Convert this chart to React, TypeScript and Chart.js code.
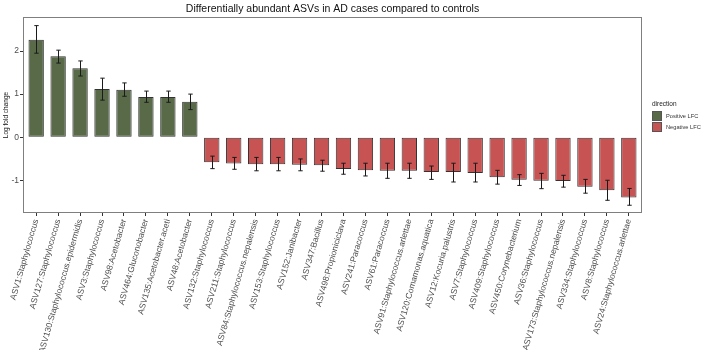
import { useEffect, useRef } from "react";
import { Chart, registerables } from "chart.js";

Chart.register(...registerables);

// ASVs ordered by log fold change (AD cases vs controls)
const asvLabels = [
  "ASV1:Staphylococcus",
  "ASV127:Staphylococcus",
  "ASV130:Staphylococcus.epidermidis",
  "ASV3:Staphylococcus",
  "ASV98:Acetobacter",
  "ASV464:Gluconobacter",
  "ASV135:Acetobacter.aceti",
  "ASV48:Acetobacter",
  "ASV132:Staphylococcus",
  "ASV211:Staphylococcus",
  "ASV84:Staphylococcus.nepalensis",
  "ASV153:Staphylococcus",
  "ASV152:Janibacter",
  "ASV347:Bacillus",
  "ASV498:Propioniciclava",
  "ASV241:Paracoccus",
  "ASV61:Paracoccus",
  "ASV91:Staphylococcus.arlettae",
  "ASV120:Comamonas.aquatica",
  "ASV12:Kocuria.palustris",
  "ASV7:Staphylococcus",
  "ASV409:Staphylococcus",
  "ASV450:Corynebacterium",
  "ASV36:Staphylococcus",
  "ASV173:Staphylococcus.nepalensis",
  "ASV334:Staphylococcus",
  "ASV8:Staphylococcus",
  "ASV24:Staphylococcus.arlettae",
];

const logFoldChange = [
  2.26, 1.88, 1.6, 1.12, 1.1, 0.93, 0.93, 0.82,
  -0.58, -0.61, -0.63, -0.63, -0.64, -0.65, -0.74, -0.77, -0.78, -0.78,
  -0.81, -0.81, -0.83, -0.93, -0.99, -1.01, -1.02, -1.15, -1.23, -1.4,
];

const lfcLower = [
  1.95, 1.72, 1.42, 0.86, 0.95, 0.81, 0.81, 0.64,
  -0.73, -0.745, -0.78, -0.78, -0.78, -0.79, -0.86, -0.9, -0.955, -0.955,
  -0.98, -1.04, -1.04, -1.09, -1.12, -1.195, -1.16, -1.3, -1.465, -1.58,
];

const lfcUpper = [
  2.59, 2.02, 1.77, 1.37, 1.26, 1.07, 1.07, 1.0,
  -0.44, -0.47, -0.47, -0.47, -0.505, -0.535, -0.605, -0.605, -0.605, -0.605,
  -0.67, -0.605, -0.605, -0.77, -0.87, -0.84, -0.885, -0.98, -1.0, -1.19,
];

const yTickValues = [-1, 0, 1, 2];
const directionLabels = ["Positive LFC", "Negative LFC"];

const POSITIVE = "#586a48";
const NEGATIVE = "#c75352";
const FONT = "'Liberation Sans', Arial, sans-serif";

export default function App() {
  const canvasRef = useRef<HTMLCanvasElement>(null);

  useEffect(() => {
    document.body.style.margin = "0";
    const canvas = canvasRef.current;
    if (!canvas) return;

    const positions = asvLabels.map((_, i) => i);
    const colors = logFoldChange.map((v) => (v >= 0 ? POSITIVE : NEGATIVE));

    const decorations = {
      id: "decorations",
      afterDatasetsDraw(chart: any) {
        const ctx = chart.ctx;
        const xs = chart.scales.x;
        const ys = chart.scales.y;
        const cap = (xs.getPixelForValue(1) - xs.getPixelForValue(0)) * 0.1;
        ctx.save();
        ctx.strokeStyle = "#1a1a1a";
        ctx.lineWidth = 1;
        positions.forEach((i) => {
          const x = Math.round(xs.getPixelForValue(i)) + 0.5;
          const yTop = ys.getPixelForValue(lfcUpper[i]);
          const yBot = ys.getPixelForValue(lfcLower[i]);
          ctx.beginPath();
          ctx.moveTo(x, yTop);
          ctx.lineTo(x, yBot);
          ctx.moveTo(x - cap, yTop);
          ctx.lineTo(x + cap, yTop);
          ctx.moveTo(x - cap, yBot);
          ctx.lineTo(x + cap, yBot);
          ctx.stroke();
        });
        ctx.restore();
      },
      afterDraw(chart: any) {
        const ctx = chart.ctx;
        const area = chart.chartArea;
        ctx.save();
        // panel border
        ctx.strokeStyle = "#7f7f7f";
        ctx.lineWidth = 1;
        ctx.strokeRect(
          Math.round(area.left) + 0.5,
          Math.round(area.top) + 0.5,
          Math.round(area.right - area.left) - 1,
          Math.round(area.bottom - area.top) - 1
        );
        // title
        ctx.fillStyle = "#111";
        ctx.font = `10.5px ${FONT}`;
        ctx.textAlign = "center";
        ctx.textBaseline = "middle";
        ctx.fillText(
          "Differentially abundant ASVs in AD cases compared to controls",
          (area.left + area.right) / 2,
          9
        );
        // legend
        ctx.textAlign = "left";
        ctx.font = `6.5px ${FONT}`;
        ctx.fillStyle = "#222";
        ctx.fillText("direction", 652, 104);
        const swatches = [POSITIVE, NEGATIVE];
        directionLabels.forEach((label, k) => {
          const y = 111 + k * 11;
          ctx.fillStyle = swatches[k];
          ctx.fillRect(652, y, 10, 10);
          ctx.strokeStyle = "#555";
          ctx.strokeRect(652.5, y + 0.5, 9, 9);
          ctx.fillStyle = "#333";
          ctx.font = `5.7px ${FONT}`;
          ctx.fillText(label, 666, y + 5);
        });
        ctx.restore();
      },
    };

    const chart = new Chart(canvas, {
      type: "bar",
      data: {
        datasets: [
          {
            data: positions.map((i) => ({ x: i, y: logFoldChange[i] })),
            backgroundColor: colors,
            borderColor: "#333",
            borderWidth: 1,
            borderSkipped: false,
            categoryPercentage: 0.7,
            barPercentage: 1,
          } as any,
        ],
      },
      options: {
        responsive: false,
        animation: false,
        devicePixelRatio: 1,
        font: { family: FONT },
        layout: { padding: { top: 17, right: 66, left: 0, bottom: 0 } },
        plugins: {
          legend: { display: false },
          tooltip: { enabled: false },
          title: { display: false },
        },
        scales: {
          x: {
            type: "linear",
            offset: false,
            min: -0.6,
            max: asvLabels.length - 0.4,
            afterBuildTicks: (s: any) => {
              s.ticks = positions.map((v) => ({ value: v }));
            },
            afterFit: (s: any) => {
              s.height = 137;
            },
            ticks: {
              autoSkip: false,
              minRotation: 74,
              maxRotation: 74,
              padding: 2,
              color: "#4d4d4d",
              font: { size: 8.5, family: FONT },
              callback: (v: any) => asvLabels[v] ?? "",
            },
            grid: { offset: false, drawOnChartArea: false, tickLength: 3, color: "#333" },
            border: { display: false },
          },
          y: {
            min: -1.76,
            max: 2.79,
            afterBuildTicks: (s: any) => {
              s.ticks = yTickValues.map((v) => ({ value: v }));
            },
            afterFit: (s: any) => {
              s.width = 23;
            },
            ticks: {
              color: "#4d4d4d",
              font: { size: 8.5, family: FONT },
              padding: 1,
            },
            grid: { drawOnChartArea: false, tickLength: 3, color: "#333" },
            border: { display: false },
            title: {
              display: true,
              text: "Log fold change",
              color: "#111",
              font: { size: 6.5, family: FONT },
              padding: 2,
            },
          },
        },
      } as any,
      plugins: [decorations],
    });

    return () => chart.destroy();
  }, []);

  return (
    <div style={{ width: 708, height: 350 }}>
      <canvas ref={canvasRef} width={708} height={350} />
    </div>
  );
}
